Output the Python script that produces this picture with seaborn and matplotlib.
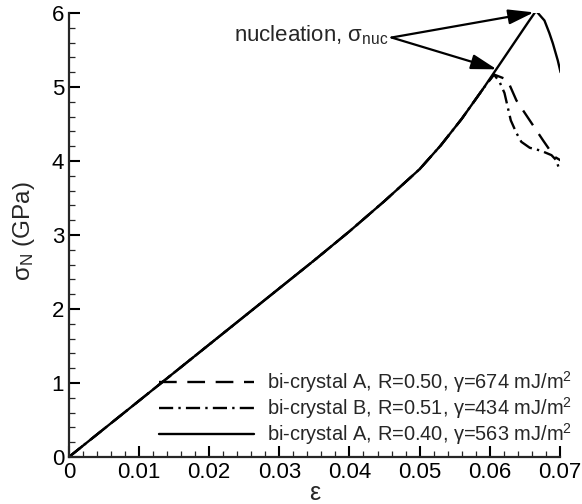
import matplotlib
matplotlib.use("Agg")
import matplotlib.pyplot as plt
from matplotlib.ticker import MultipleLocator
import pandas as pd
import seaborn as sns

# Strain / normal-stress data for the three bi-crystals
strain_A050 = [0.0, 0.005, 0.010, 0.015, 0.020, 0.025, 0.030, 0.035, 0.040,
               0.045, 0.050, 0.053, 0.056, 0.059, 0.0606, 0.0625, 0.0638,
               0.0657, 0.0676, 0.0692, 0.0701]
stress_A050 = [0.0, 0.38, 0.76, 1.14, 1.52, 1.90, 2.28, 2.66, 3.05,
               3.46, 3.89, 4.21, 4.57, 4.97, 5.17, 5.10, 4.82,
               4.55, 4.28, 4.06, 4.01]

strain_B051 = [0.0, 0.005, 0.010, 0.015, 0.020, 0.025, 0.030, 0.035, 0.040,
               0.045, 0.050, 0.053, 0.056, 0.059, 0.0606, 0.0614, 0.0621,
               0.0630, 0.0638, 0.0645, 0.0657, 0.0673, 0.0688, 0.0695, 0.0700]
stress_B051 = [0.0, 0.38, 0.76, 1.14, 1.52, 1.90, 2.28, 2.66, 3.05,
               3.46, 3.89, 4.21, 4.57, 4.97, 5.17, 5.07, 4.92,
               4.55, 4.38, 4.26, 4.18, 4.14, 4.08, 4.01, 3.86]

strain_A040 = [0.0, 0.005, 0.010, 0.015, 0.020, 0.025, 0.030, 0.035, 0.040,
               0.045, 0.050, 0.053, 0.056, 0.059, 0.062, 0.064, 0.0655,
               0.0666, 0.0678, 0.0685, 0.0690, 0.0697, 0.0701]
stress_A040 = [0.0, 0.38, 0.76, 1.14, 1.52, 1.90, 2.28, 2.66, 3.05,
               3.46, 3.89, 4.21, 4.57, 4.97, 5.39, 5.67, 5.88,
               6.03, 5.90, 5.73, 5.59, 5.36, 5.20]

labels = [
    r"bi-crystal A, R=0.50, γ=674 mJ/m$^2$",
    r"bi-crystal B, R=0.51, γ=434 mJ/m$^2$",
    r"bi-crystal A, R=0.40, γ=563 mJ/m$^2$",
]

x_ticks = [0, 0.01, 0.02, 0.03, 0.04, 0.05, 0.06, 0.07]
x_ticklabels = ["0", "0.01", "0.02", "0.03", "0.04", "0.05", "0.06", "0.07"]
y_ticks = [0, 1, 2, 3, 4, 5, 6]

sns.set_theme(style="ticks")
plt.rcParams["font.family"] = ["Liberation Sans", "DejaVu Sans"]
plt.rcParams["mathtext.fontset"] = "custom"
plt.rcParams["mathtext.rm"] = "Liberation Sans"
plt.rcParams["mathtext.default"] = "regular"

fig = plt.figure(figsize=(5.82, 5.04), dpi=100)
ax = fig.add_axes([0.1184, 0.0933, 0.8436, 0.8807])

frames = [
    pd.DataFrame({"strain": strain_A050, "stress": stress_A050}),
    pd.DataFrame({"strain": strain_B051, "stress": stress_B051}),
    pd.DataFrame({"strain": strain_A040, "stress": stress_A040}),
]
dash_styles = [(7.5, 4.5), (6, 2.2, 1, 2.2), None]

for df, lab, ds in zip(frames, labels, dash_styles):
    sns.lineplot(data=df, x="strain", y="stress", ax=ax, color="black",
                 linewidth=1.7, estimator=None, sort=False, label=lab)
    l = ax.get_lines()[-1]
    if ds is not None:
        l.set_dashes(ds)

ax.set_xlim(0, 0.07)
ax.set_ylim(0, 6)
ax.set_xticks(x_ticks)
ax.set_xticklabels(x_ticklabels)
ax.set_yticks(y_ticks)
ax.xaxis.set_minor_locator(MultipleLocator(0.002))
ax.yaxis.set_minor_locator(MultipleLocator(0.2))

sns.despine(ax=ax)
for s in ("left", "bottom"):
    ax.spines[s].set_linewidth(1.6)
ax.tick_params(which="major", direction="in", length=8, width=1.5,
               labelsize=16, pad=3.5, colors="black")
ax.tick_params(which="minor", direction="in", length=4.5, width=0.9)

ax.set_xlabel("ε", fontsize=18)
ax.set_ylabel("σ$_N$ (GPa)", fontsize=17.5)
ax.xaxis.set_label_coords(0.501, -0.097)
ax.xaxis.label.set_va("baseline")
ax.yaxis.set_label_coords(-0.091, 0.51)
ax.yaxis.label.set_va("center")

ax.legend(loc="lower right", frameon=False, fontsize=14.4,
          handlelength=4.75, handletextpad=0.65, labelspacing=0.0,
          borderaxespad=0, borderpad=0, bbox_to_anchor=(1.0245, 0.022))

# Nucleation annotation with two arrows
ax.text(0.0455, 5.70, "nucleation, σ$_{nuc}$", ha="right", va="center",
        fontsize=16)
arrow_kw = dict(arrowstyle="-|>,head_length=1.3,head_width=0.38",
                color="black", lw=1.6, shrinkA=0, shrinkB=0)
ax.annotate("", xy=(0.0663, 6.01), xytext=(0.0460, 5.67),
            arrowprops=arrow_kw, annotation_clip=False)
ax.annotate("", xy=(0.0610, 5.24), xytext=(0.0460, 5.67),
            arrowprops=arrow_kw, annotation_clip=False)

fig.savefig("out.png", dpi=100)
